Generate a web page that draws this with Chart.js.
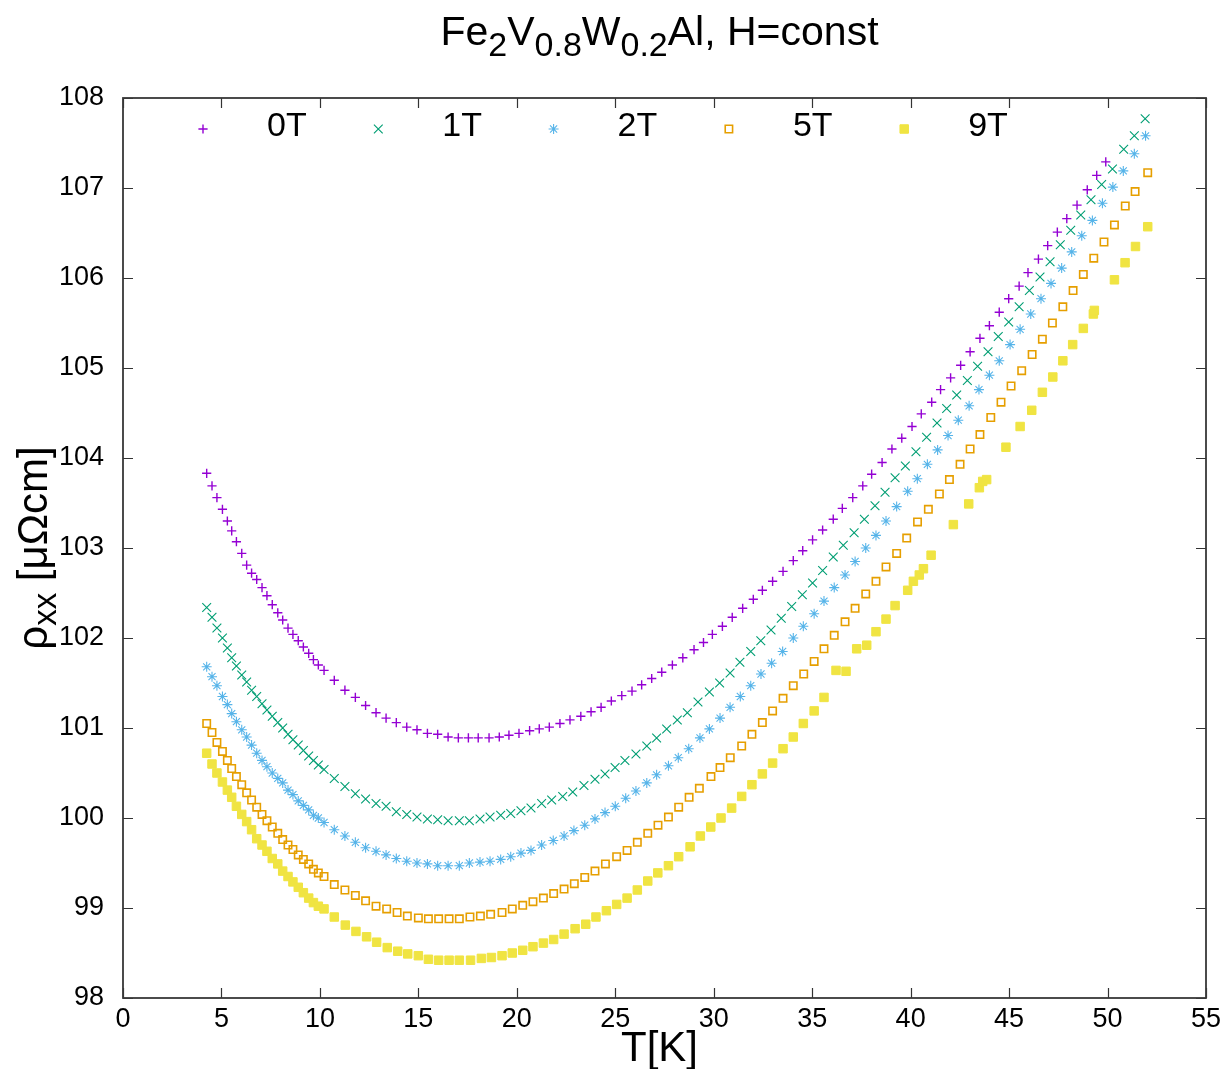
<!DOCTYPE html>
<html><head><meta charset="utf-8">
<script src="https://cdn.jsdelivr.net/npm/chart.js@4.4.0/dist/chart.umd.min.js"></script>
<style>html,body{margin:0;padding:0;background:#fff;}canvas{display:block;}</style>
</head><body>
<canvas id="c" width="1222" height="1069"></canvas>
<script>
// ---------- data ----------
const seriesLabels = ['0T', '1T', '2T', '5T', '9T'];
const seriesColors = ['#9400d3', '#009e73', '#56b4e9', '#e69f00', '#f0e442'];
const xTickValues = [0, 5, 10, 15, 20, 25, 30, 35, 40, 45, 50, 55];
const yTickValues = [98, 99, 100, 101, 102, 103, 104, 105, 106, 107, 108];

// [T (K), rho_xx (µΩcm)]
const data0T = [[4.25,103.83],[4.52,103.69],[4.77,103.56],[5.05,103.43],[5.30,103.30],[5.52,103.19],[5.76,103.07],[6.03,102.94],[6.28,102.81],[6.53,102.72],[6.79,102.65],[7.06,102.56],[7.31,102.47],[7.58,102.37],[7.86,102.28],[8.11,102.20],[8.38,102.11],[8.63,102.04],[8.90,101.97],[9.16,101.90],[9.43,101.83],[9.67,101.76],[9.92,101.70],[10.21,101.64],
[10.73,101.53],[11.27,101.42],[11.80,101.34],[12.32,101.25],[12.85,101.17],[13.36,101.11],[13.88,101.06],[14.41,101.01],[14.93,100.98],[15.46,100.94],[15.98,100.93],[16.51,100.90],[17.03,100.89],[17.54,100.89],[18.04,100.89],[18.59,100.89],[19.11,100.90],[19.60,100.92],[20.11,100.94],[20.65,100.97],[21.14,100.99],[21.65,101.01],[22.19,101.05],[22.70,101.09],[23.25,101.13],[23.77,101.18],[24.28,101.23],[24.80,101.30],[25.33,101.36],[25.85,101.41],[26.34,101.48],[26.85,101.55],[27.36,101.62],[27.90,101.70],[28.43,101.78],[29.00,101.87],[29.48,101.95],[29.93,102.04],[30.44,102.13],[30.94,102.23],[31.47,102.33],[32.01,102.43],[32.47,102.53],[32.99,102.63],[33.52,102.74],[34.04,102.86],[34.52,102.97],[35.02,103.09],[35.53,103.20],[36.07,103.32],[36.53,103.44],[37.06,103.56],[37.57,103.69],[38.02,103.82],[38.55,103.95],[39.05,104.10],[39.55,104.22],[40.07,104.35],[40.54,104.49],[41.07,104.62],[41.52,104.76],[42.03,104.89],[42.54,105.03],[43.02,105.18],[43.52,105.33],[44.00,105.47],[44.50,105.62],[44.98,105.77],[45.51,105.91],[45.96,106.06],[46.49,106.21],[46.96,106.36],[47.45,106.51],[47.93,106.66],[48.45,106.81],[48.97,106.98],[49.45,107.14],[49.91,107.29]];

const data1T = [[4.25,102.34],[4.52,102.23],[4.77,102.11],[5.05,102.00],[5.30,101.89],[5.52,101.78],[5.76,101.69],[6.03,101.59],[6.28,101.51],[6.53,101.42],[6.79,101.35],[7.06,101.27],[7.31,101.20],[7.58,101.13],[7.86,101.06],[8.11,101.00],[8.38,100.93],[8.63,100.87],[8.90,100.81],[9.16,100.75],[9.43,100.69],[9.67,100.64],[9.92,100.59],[10.21,100.54],
[10.73,100.44],[11.27,100.35],[11.80,100.27],[12.32,100.21],[12.85,100.16],[13.36,100.13],[13.88,100.07],[14.41,100.04],[14.93,100.01],[15.46,99.99],[15.98,99.98],[16.51,99.97],[17.08,99.97],[17.59,99.97],[18.13,99.99],[18.64,100.01],[19.18,100.03],[19.69,100.05],[20.21,100.08],[20.72,100.11],[21.26,100.16],[21.77,100.20],[22.33,100.24],[22.84,100.29],[23.41,100.36],[23.97,100.43],[24.48,100.49],[24.99,100.56],[25.49,100.64],[26.05,100.71],[26.60,100.80],[27.10,100.89],[27.61,100.99],[28.15,101.09],[28.66,101.17],[29.20,101.29],[29.78,101.40],[30.30,101.50],[30.83,101.61],[31.33,101.73],[31.88,101.85],[32.39,101.97],[32.91,102.09],[33.43,102.22],[33.96,102.35],[34.50,102.48],[35.02,102.61],[35.53,102.75],[36.07,102.90],[36.58,103.03],[37.13,103.17],[37.65,103.32],[38.19,103.47],[38.70,103.62],[39.21,103.78],[39.73,103.91],[40.27,104.07],[40.81,104.23],[41.34,104.39],[41.83,104.55],[42.34,104.70],[42.88,104.86],[43.40,105.02],[43.93,105.18],[44.45,105.35],[44.98,105.51],[45.51,105.68],[46.03,105.86],[46.57,106.01],[47.08,106.18],[47.60,106.37],[48.13,106.53],[48.64,106.70],[49.16,106.87],[49.70,107.04],[50.25,107.21],[50.82,107.43],[51.36,107.58],[51.91,107.77]];

const data2T = [[4.25,101.68],[4.52,101.57],[4.77,101.47],[5.05,101.35],[5.30,101.26],[5.52,101.16],[5.76,101.07],[6.03,100.98],[6.28,100.90],[6.53,100.81],[6.79,100.72],[7.06,100.64],[7.31,100.57],[7.58,100.50],[7.86,100.44],[8.11,100.39],[8.38,100.31],[8.63,100.26],[8.90,100.19],[9.16,100.14],[9.43,100.09],[9.67,100.03],[9.92,100.00],[10.21,99.95],
[10.73,99.87],[11.27,99.80],[11.80,99.73],[12.32,99.67],[12.85,99.63],[13.36,99.59],[13.88,99.55],[14.41,99.52],[14.93,99.50],[15.46,99.49],[15.98,99.47],[16.51,99.47],[17.08,99.47],[17.59,99.50],[18.13,99.51],[18.64,99.52],[19.18,99.54],[19.69,99.57],[20.21,99.61],[20.72,99.64],[21.26,99.70],[21.85,99.75],[22.40,99.80],[22.90,99.86],[23.45,99.92],[23.97,99.99],[24.48,100.06],[25.00,100.13],[25.53,100.22],[26.05,100.30],[26.60,100.39],[27.10,100.48],[27.70,100.58],[28.20,100.67],[28.73,100.77],[29.30,100.89],[29.78,100.99],[30.32,101.11],[30.83,101.23],[31.35,101.35],[31.88,101.47],[32.40,101.60],[32.94,101.72],[33.50,101.85],[34.04,102.00],[34.55,102.13],[35.10,102.27],[35.60,102.41],[36.12,102.56],[36.67,102.70],[37.18,102.85],[37.72,103.00],[38.24,103.14],[38.75,103.30],[39.29,103.46],[39.85,103.63],[40.34,103.77],[40.85,103.93],[41.37,104.09],[41.90,104.25],[42.42,104.42],[42.97,104.58],[43.47,104.76],[44.00,104.92],[44.50,105.08],[45.05,105.26],[45.56,105.43],[46.10,105.60],[46.62,105.77],[47.13,105.94],[47.67,106.11],[48.18,106.29],[48.69,106.47],[49.23,106.64],[49.74,106.83],[50.27,107.01],[50.80,107.19],[51.36,107.38],[51.93,107.58]];

const data5T = [[4.25,101.05],[4.52,100.95],[4.77,100.84],[5.05,100.74],[5.30,100.64],[5.52,100.55],[5.76,100.46],[6.03,100.37],[6.28,100.28],[6.53,100.20],[6.79,100.12],[7.06,100.04],[7.31,99.97],[7.58,99.90],[7.86,99.83],[8.11,99.76],[8.38,99.70],[8.63,99.65],[8.90,99.59],[9.16,99.54],[9.43,99.49],[9.67,99.43],[9.92,99.39],[10.21,99.35],
[10.73,99.26],[11.27,99.20],[11.80,99.14],[12.32,99.08],[12.85,99.02],[13.39,98.99],[13.92,98.95],[14.44,98.91],[15.00,98.89],[15.51,98.88],[16.03,98.88],[16.56,98.88],[17.08,98.88],[17.62,98.90],[18.15,98.91],[18.67,98.93],[19.25,98.95],[19.77,98.99],[20.30,99.03],[20.82,99.07],[21.35,99.11],[21.87,99.16],[22.40,99.21],[22.92,99.27],[23.45,99.34],[23.97,99.41],[24.50,99.49],[25.07,99.57],[25.60,99.64],[26.12,99.73],[26.65,99.83],[27.17,99.92],[27.70,100.01],[28.22,100.12],[28.75,100.23],[29.27,100.33],[29.86,100.46],[30.32,100.56],[30.84,100.67],[31.42,100.80],[31.94,100.93],[32.47,101.06],[32.99,101.19],[33.52,101.33],[34.04,101.47],[34.57,101.60],[35.10,101.74],[35.60,101.88],[36.12,102.03],[36.67,102.18],[37.18,102.33],[37.72,102.49],[38.24,102.63],[38.75,102.79],[39.29,102.94],[39.80,103.11],[40.35,103.29],[40.90,103.43],[41.46,103.60],[41.97,103.76],[42.51,103.93],[43.02,104.10],[43.52,104.26],[44.07,104.45],[44.59,104.62],[45.10,104.80],[45.64,104.97],[46.17,105.15],[46.69,105.32],[47.20,105.50],[47.73,105.68],[48.25,105.86],[48.77,106.04],[49.30,106.22],[49.82,106.40],[50.35,106.59],[50.90,106.80],[51.40,106.96],[52.04,107.17]];

const data9T = [[4.25,100.72],[4.52,100.60],[4.77,100.50],[5.05,100.40],[5.30,100.31],[5.52,100.23],[5.76,100.13],[6.03,100.04],[6.28,99.96],[6.53,99.87],[6.79,99.77],[7.06,99.70],[7.31,99.63],[7.58,99.55],[7.86,99.49],[8.11,99.41],[8.38,99.35],[8.63,99.29],[8.90,99.23],[9.16,99.17],[9.43,99.11],[9.67,99.06],[9.92,99.02],[10.21,98.99],
[10.73,98.90],[11.29,98.81],[11.83,98.74],[12.37,98.68],[12.88,98.62],[13.42,98.56],[13.95,98.52],[14.46,98.49],[15.00,98.47],[15.51,98.43],[16.03,98.42],[16.56,98.42],[17.08,98.42],[17.65,98.42],[18.20,98.44],[18.71,98.45],[19.25,98.47],[19.77,98.50],[20.30,98.53],[20.82,98.57],[21.35,98.61],[21.87,98.65],[22.40,98.71],[22.96,98.77],[23.50,98.82],[24.02,98.90],[24.55,98.97],[25.07,99.04],[25.60,99.11],[26.12,99.20],[26.65,99.30],[27.16,99.39],[27.70,99.47],[28.22,99.57],[28.80,99.68],[29.32,99.80],[29.85,99.90],[30.37,100.00],[30.91,100.11],[31.42,100.24],[31.94,100.37],[32.47,100.49],[32.99,100.61],[33.52,100.77],[34.04,100.90],[34.55,101.05],[35.10,101.19],[35.60,101.34],[36.21,101.64],[36.72,101.63],[37.26,101.88],[37.77,101.92],[38.24,102.07],[38.75,102.21],[39.21,102.36],[39.85,102.53],[40.14,102.63],[40.44,102.70],[40.65,102.77],[41.04,102.92],[42.17,103.26],[42.95,103.49],[43.49,103.67],[43.66,103.74],[43.86,103.76],[44.84,104.12],[45.56,104.35],[46.15,104.53],[46.69,104.73],[47.22,104.90],[47.73,105.08],[48.23,105.26],[48.77,105.44],[49.28,105.60],[49.33,105.64],[50.35,105.98],[50.89,106.17],[51.42,106.35],[52.04,106.57]];

const seriesData = [data0T, data1T, data2T, data5T, data9T];

// ---------- styles ----------
const FONT = '"Liberation Sans", Arial, Helvetica, sans-serif';
const pointDefs = [
  {style:'cross',    radius:4.6, width:1.4, fill:false},
  {style:'crossRot', radius:6.2, width:1.1, fill:false},
  {style:'star',     radius:5.0, width:1.1, fill:false},
  {style:'rect',     radius:5.2, width:1.6, fill:false},
  {style:'rect',     radius:6.0, width:1.0, fill:true}
];

const datasets = seriesLabels.map((lab, i) => ({
  label: lab,
  data: seriesData[i].map(p => ({x: p[0], y: p[1]})),
  showLine: false,
  pointStyle: pointDefs[i].style,
  pointRadius: pointDefs[i].radius,
  pointHoverRadius: pointDefs[i].radius,
  pointBorderWidth: pointDefs[i].width,
  borderColor: seriesColors[i],
  backgroundColor: pointDefs[i].fill ? seriesColors[i] : 'rgba(0,0,0,0)',
  order: 5 - i
}));

function drawRuns(ctx, runs, x, y, mainSize, subSize, subShift, align) {
  const widths = runs.map(r => { ctx.font = (r.sub ? subSize : mainSize) + 'px ' + FONT; return ctx.measureText(r.t).width; });
  const total = widths.reduce((a, b) => a + b, 0);
  let cx = align === 'center' ? x - total / 2 : x;
  ctx.textAlign = 'left';
  ctx.textBaseline = 'alphabetic';
  runs.forEach((r, k) => {
    ctx.font = (r.sub ? subSize : mainSize) + 'px ' + FONT;
    ctx.fillText(r.t, cx, y + (r.sub ? subShift : 0));
    cx += widths[k];
  });
}

function drawSymbol(ctx, i, x, y) {
  const d = pointDefs[i];
  ctx.save();
  ctx.strokeStyle = seriesColors[i];
  ctx.fillStyle = seriesColors[i];
  ctx.lineWidth = d.width;
  const r = d.radius;
  ctx.beginPath();
  if (d.style === 'cross' || d.style === 'star') {
    ctx.moveTo(x - r, y); ctx.lineTo(x + r, y);
    ctx.moveTo(x, y - r); ctx.lineTo(x, y + r);
  }
  if (d.style === 'crossRot' || d.style === 'star') {
    const o = Math.SQRT1_2 * r;
    ctx.moveTo(x - o, y - o); ctx.lineTo(x + o, y + o);
    ctx.moveTo(x - o, y + o); ctx.lineTo(x + o, y - o);
  }
  if (d.style === 'rect') {
    const s = Math.SQRT1_2 * r;
    ctx.rect(x - s, y - s, 2 * s, 2 * s);
    if (d.fill) ctx.fill();
  }
  ctx.stroke();
  ctx.restore();
}

const decorPlugin = {
  id: 'decor',
  afterDatasetsDraw(chart) {
    const {ctx, chartArea: a, scales: {x, y}} = chart;
    ctx.save();
    // inward tick marks on all four sides
    ctx.strokeStyle = '#333';
    ctx.lineWidth = 1.2;
    ctx.beginPath();
    xTickValues.forEach(v => {
      const px = Math.round(x.getPixelForValue(v)) + 0.5;
      ctx.moveTo(px, a.bottom); ctx.lineTo(px, a.bottom - 10);
      ctx.moveTo(px, a.top); ctx.lineTo(px, a.top + 10);
    });
    yTickValues.forEach(v => {
      const py = Math.round(y.getPixelForValue(v)) + 0.5;
      ctx.moveTo(a.left, py); ctx.lineTo(a.left + 10, py);
      ctx.moveTo(a.right, py); ctx.lineTo(a.right - 10, py);
    });
    ctx.stroke();
    // frame
    ctx.strokeStyle = '#383838';
    ctx.lineWidth = 1.8;
    ctx.strokeRect(a.left, a.top, a.right - a.left, a.bottom - a.top);

    ctx.fillStyle = '#000';
    const cxm = (a.left + a.right) / 2;
    // title
    drawRuns(ctx, [{t:'Fe'},{t:'2',sub:true},{t:'V'},{t:'0.8',sub:true},{t:'W'},{t:'0.2',sub:true},{t:'Al, H=const'}],
             cxm - 5, 45, 41, 34, 11, 'center');
    // x axis title
    drawRuns(ctx, [{t:'T[K]'}], cxm - 5, 1061, 42, 34, 0, 'center');
    // y axis title (rotated)
    ctx.save();
    ctx.translate(47, (a.top + a.bottom) / 2);
    ctx.rotate(-Math.PI / 2);
    drawRuns(ctx, [{t:'\u03c1'},{t:'xx',sub:true},{t:' [\u03bc\u03a9cm]'}], 0, 0, 42, 33, 9, 'center');
    ctx.restore();

    // legend (key) inside plot, top row
    seriesLabels.forEach((lab, i) => {
      const sx = 203 + i * 175.3;
      drawSymbol(ctx, i, sx, 129);
      ctx.font = '34px ' + FONT;
      ctx.textAlign = 'left';
      ctx.textBaseline = 'alphabetic';
      ctx.fillStyle = '#000';
      ctx.fillText(lab, sx + 64, 136);
    });
    ctx.restore();
  }
};

new Chart(document.getElementById('c'), {
  type: 'scatter',
  data: {datasets},
  options: {
    responsive: false,
    animation: false,
    devicePixelRatio: 1,
    layout: {padding: {top: 98, right: 16, left: 0, bottom: 0}},
    plugins: {legend: {display: false}, tooltip: {enabled: false}, title: {display: false}},
    scales: {
      x: {
        type: 'linear', min: 0, max: 55,
        afterBuildTicks: s => { s.ticks = xTickValues.map(v => ({value: v})); },
        afterFit: s => { s.height = 71; s.paddingLeft = 0; s.paddingRight = 0; },
        grid: {display: false, drawTicks: false},
        border: {display: false},
        ticks: {color: '#000', font: {family: FONT, size: 27}, padding: 5, maxRotation: 0, autoSkip: false,
                callback: v => String(v)}
      },
      y: {
        type: 'linear', min: 98, max: 108,
        afterBuildTicks: s => { s.ticks = yTickValues.map(v => ({value: v})); },
        afterFit: s => { s.width = 123; s.paddingTop = 0; s.paddingBottom = 0; },
        grid: {display: false, drawTicks: false},
        border: {display: false},
        ticks: {color: '#000', font: {family: FONT, size: 27}, padding: 19, autoSkip: false,
                callback: v => String(v)}
      }
    }
  },
  plugins: [decorPlugin]
});
</script>
</body></html>
